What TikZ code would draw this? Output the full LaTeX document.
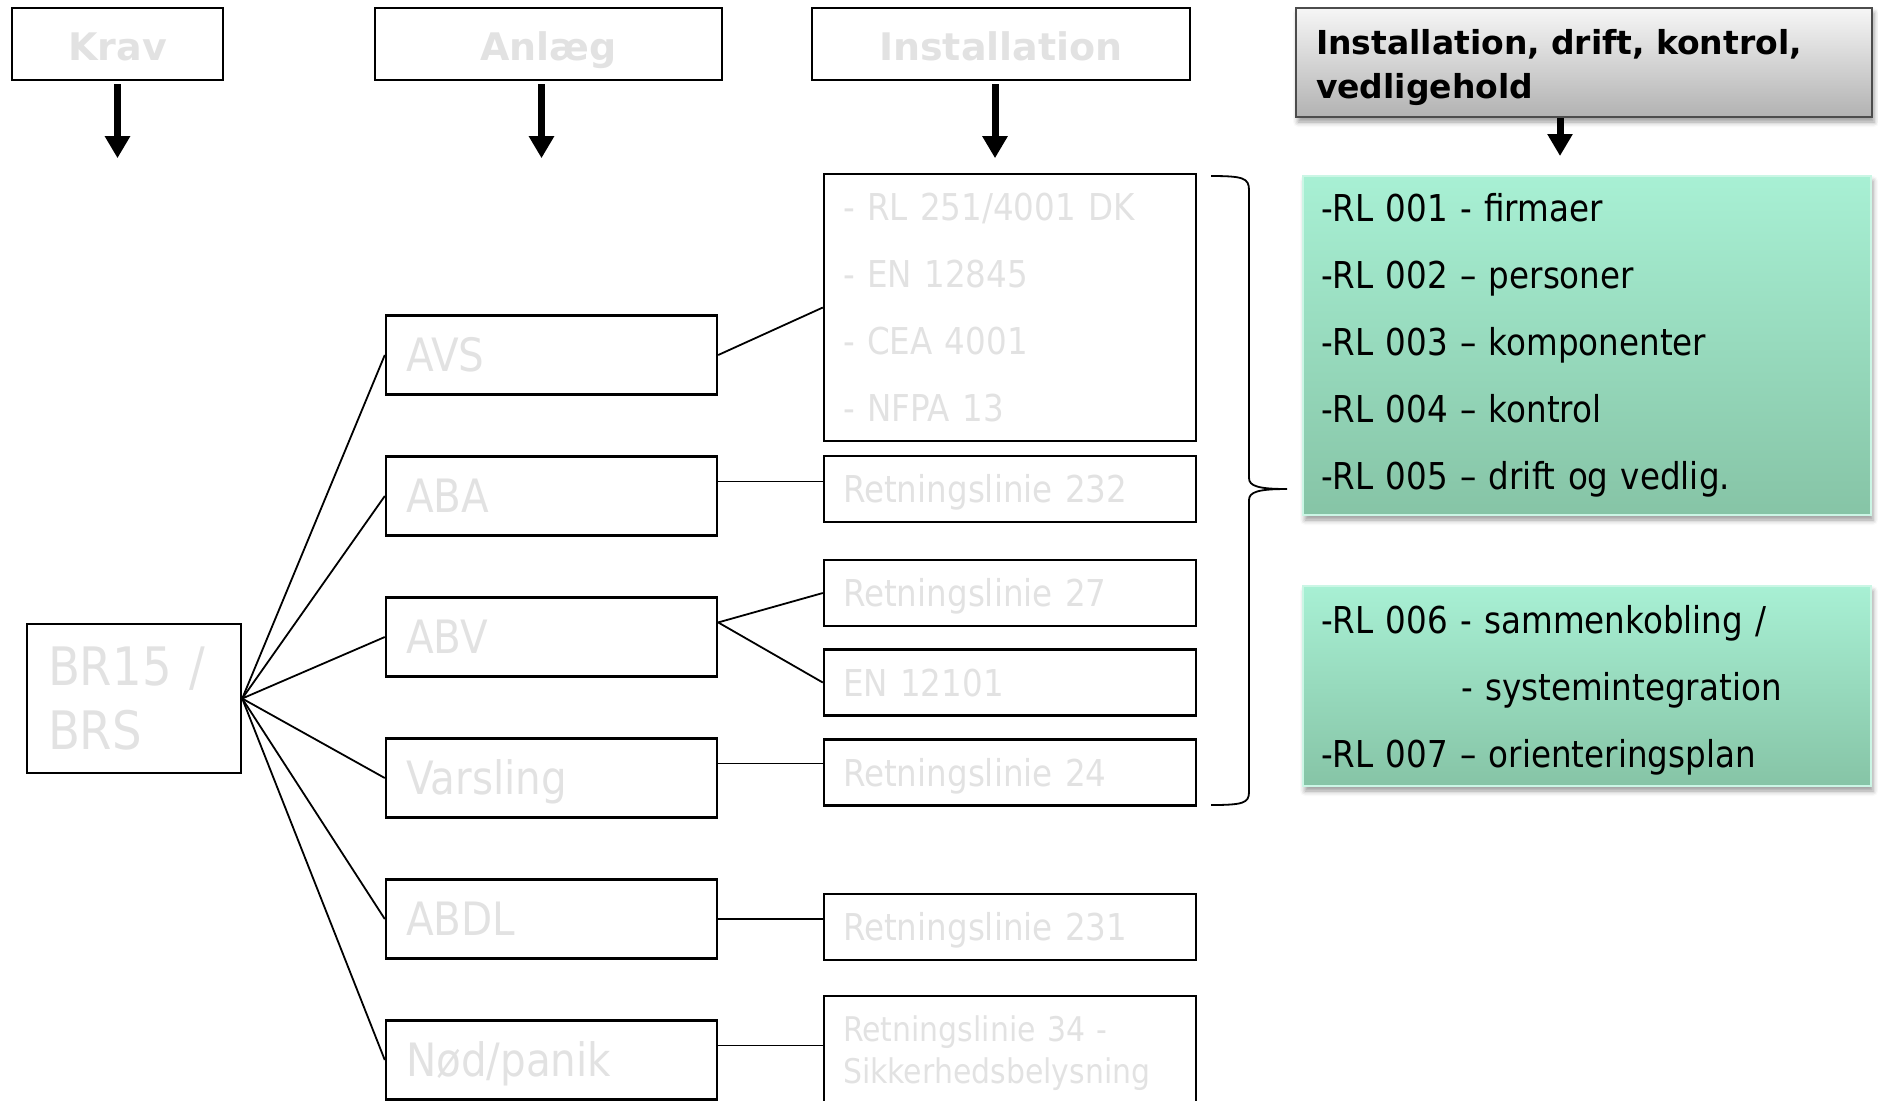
\documentclass[tikz,border=0pt]{standalone}
\usepackage{fontspec}
\setmainfont{DejaVu Sans}[FakeStretch=0.88]
\newfontfamily\headfont{DejaVu Sans}
\usepackage{tikz}
\usetikzlibrary{positioning,arrows.meta,shadows.blur}

\definecolor{txtgray}{RGB}{226,226,226}
\definecolor{mintTop}{RGB}{168,240,212}
\definecolor{mintBot}{RGB}{134,196,166}
\definecolor{greyTop}{RGB}{246,246,246}
\definecolor{greyBot}{RGB}{178,178,178}

\begin{document}
\begin{tikzpicture}[
    x=0.5pt, y=-0.5pt,
    node distance=29.8pt,
    hdr/.style={rectangle, draw, line width=1.2pt, minimum height=36pt, text height=16.3pt, text depth=0pt, text=txtgray, font=\headfont\bfseries\fontsize{19}{22}\selectfont},
    anl/.style={rectangle, draw, line width=1.2pt, minimum height=39.5pt, inner xsep=10pt, inner ysep=0pt, text width=145.5pt, align=left, text height=16.8pt, text depth=0pt, text=txtgray, font=\fontsize{23}{27}\selectfont},
    inst/.style={rectangle, draw, line width=1.2pt, minimum height=33pt, inner xsep=9.5pt, inner ysep=0pt, text width=167pt, align=left, text=txtgray, font=\fontsize{18.5}{33.5}\selectfont},
    oneline/.style={text height=13.5pt, text depth=0pt},
    mint/.style={rectangle, top color=mintTop, bottom color=mintBot, draw=mintTop!60!white, line width=0.6pt, blur shadow={shadow xshift=1pt, shadow yshift=-2.5pt, shadow blur radius=2.5pt}, inner xsep=9pt, inner ysep=0pt, text width=266pt, align=left, font=\fontsize{18.5}{33.5}\selectfont},
    conn/.style={line width=0.9pt},
    bigarrow/.style={line width=3.5pt, -{Triangle[length=11pt,width=12pt]}}
]
    \useasboundingbox (0,0) rectangle (1878,1100);
    \clip (0,0) rectangle (1878,1100);

    % column heads
    \node[hdr, minimum width=105.5pt] (krav) at (117.5,44) {Krav};
    \node[hdr, minimum width=173.5pt] (anlaeg) at (548.5,44) {Anlæg};
    \node[hdr, minimum width=189pt] (install) at (1001,44) {Installation};
    \node[rectangle, draw=black!70, line width=1pt, top color=greyTop, bottom color=greyBot,
          blur shadow={shadow xshift=1pt, shadow yshift=-2.5pt, shadow blur radius=2.5pt},
          minimum height=54.5pt, inner xsep=10pt, inner ysep=0pt, text width=268pt, align=left,
          text height=17.3pt, font=\headfont\bfseries\fontsize{16.5}{22}\selectfont] (drift) at (1584,62.5)
          {Installation, drift, kontrol,\\vedligehold};

    \draw[bigarrow] ([yshift=-1.5pt]krav.south) -- ++(0,74);
    \draw[bigarrow] ([xshift=-3.5pt,yshift=-1.5pt]anlaeg.south) -- ++(0,74);
    \draw[bigarrow] ([xshift=-3pt,yshift=-1.5pt]install.south) -- ++(0,74);
    \draw[bigarrow] ([xshift=-12pt]drift.south) -- ++(0,38);

    % krav
    \node[rectangle, draw, line width=1.2pt, minimum height=74.5pt, inner xsep=10.5pt, inner ysep=0pt,
          text width=86pt, align=left, text=txtgray, font=\fontsize{26.5}{31.75}\selectfont] (br) at (134,698.5)
          {BR15 /\\BRS};

    % anlaeg
    \node[anl] (avs) at (551.5,355) {AVS};
    \node[anl, below=of avs] (aba) {ABA};
    \node[anl, below=of aba] (abv) {ABV};
    \node[anl, below=of abv] (vars) {Varsling};
    \node[anl, below=of vars] (abdl) {ABDL};
    \node[anl, below=of abdl] (nod) {Nød/panik};

    % installation
    \node[inst, minimum height=133.5pt] (big) at (1010,307.5)
          {- RL 251/4001 DK\\- EN 12845\\- CEA 4001\\- NFPA 13};
    \node[inst, oneline] (r232) at (1010,489) {Retningslinie 232};
    \node[inst, oneline] (r27) at (1010,593) {Retningslinie 27};
    \node[inst, oneline] (en) at (1010,682.5) {EN 12101};
    \node[inst, oneline] (r24) at (1010,772.5) {Retningslinie 24};
    \node[inst, oneline] (r231) at (1010,927) {Retningslinie 231};
    \node[inst, minimum height=57pt, font=\fontsize{17}{21}\selectfont] (r34) at (1010,1053)
          {Retningslinie 34 -\\Sikkerhedsbelysning};

    % drift og vedligehold
    \node[mint, minimum height=169.5pt] (rl1) at (1587,345.5)
          {-RL 001 - firmaer\\-RL 002 – personer\\-RL 003 – komponenter\\-RL 004 – kontrol\\-RL 005 – drift og vedlig.};
    \node[mint, minimum height=100pt, text height=18.5pt] (rl2) at (1587,686)
          {-RL 006 - sammenkobling /\\\hspace*{70pt}- systemintegration\\-RL 007 – orienteringsplan};

    % connectors
    \foreach \n in {avs,aba,abv,vars,abdl,nod}
        \draw[conn] (br.east) -- (\n.west);
    \draw[conn] (avs.east) -- (big.west);
    \draw[conn] (aba.5) -- (aba.5 -| r232.west);
    \draw[conn] (abv.5) -- (r27.west);
    \draw[conn] (abv.5) -- (en.west);
    \draw[conn] (vars.5) -- (vars.5 -| r24.west);
    \draw[conn] (abdl.east) -- (abdl.east -| r231.west);
    \draw[conn] (nod.5) -- (nod.5 -| r34.west);

    % brace
    \draw[conn] (1211,176) .. controls (1243,176) and (1249,178) .. (1249,190) -- (1249,478)
        .. controls (1249,486) and (1258,489) .. (1287,489)
        .. controls (1258,489) and (1249,492) .. (1249,500) -- (1249,792)
        .. controls (1249,803) and (1243,805) .. (1211,805);
\end{tikzpicture}
\end{document}
